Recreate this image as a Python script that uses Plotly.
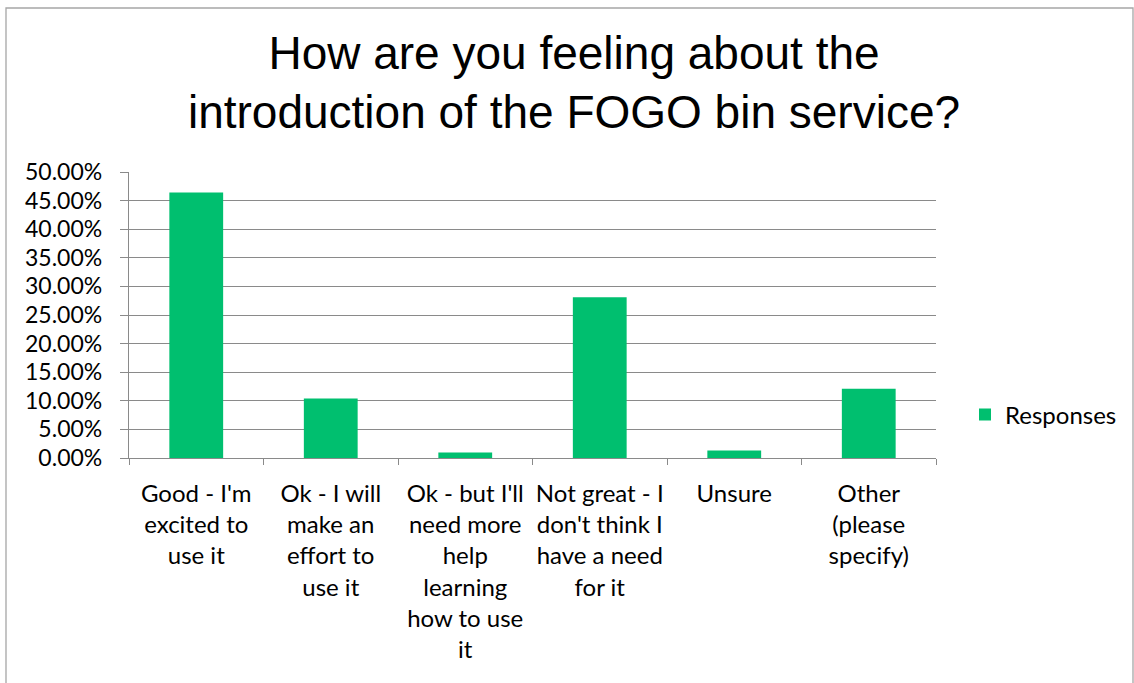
import plotly.graph_objects as go

categories = [
    "Good - I'm<br>excited to<br>use it",
    "Ok - I will<br>make an<br>effort to<br>use it",
    "Ok - but I'll<br>need more<br>help<br>learning<br>how to use<br>it",
    "Not great - I<br>don't think I<br>have a need<br>for it",
    "Unsure",
    "Other<br>(please<br>specify)",
]
responses = [0.464, 0.104, 0.0095, 0.281, 0.013, 0.121]
y_ticks = [0.0, 0.05, 0.10, 0.15, 0.20, 0.25, 0.30, 0.35, 0.40, 0.45, 0.50]
series_name = "Responses"
title_text = "How are you feeling about the<br>introduction of the FOGO bin service?"

W, H = 1134, 683
L, R, T, B = 129, 198, 172, 225
pw, ph = W - L - R, H - T - B

fig = go.Figure()
fig.add_trace(go.Bar(
    x=categories, y=responses, name=series_name,
    marker=dict(color="#00BF6F", line=dict(width=0)),
    showlegend=True,
))

grid = "#8a8a8a"
lab_font = "Lato, Calibri, sans-serif"
fig.update_layout(
    width=W, height=H,
    margin=dict(l=L, r=R, t=T, b=B, autoexpand=False),
    paper_bgcolor="white", plot_bgcolor="white",
    bargap=0.6,
    title=dict(text=title_text, x=574 / W, xanchor="center",
               y=1 - 68.5 / H, yanchor="middle", yref="container",
               font=dict(family="Liberation Sans, Arial", size=46, color="#000")),
    font=dict(family=lab_font, color="#000"),
    xaxis=dict(
        type="category", showgrid=False, showline=True, linecolor=grid, linewidth=1.3,
        ticks="outside", tickson="boundaries", ticklen=6, tickcolor=grid, tickwidth=1.3,
        tickfont=dict(size=24, family=lab_font, color="#000"),
        tickangle=0, ticklabelstandoff=14,
    ),
    yaxis=dict(
        range=[0, 0.5], tickvals=y_ticks, tickformat=".2%",
        showgrid=True, gridcolor=grid, gridwidth=1.3,
        showline=True, linecolor=grid, linewidth=1.3,
        ticks="outside", ticklen=8, tickcolor=grid, tickwidth=1.3,
        tickfont=dict(size=23, family=lab_font, color="#000"),
        zeroline=False, ticklabelstandoff=13,
    ),
    legend=dict(x=(965 - L) / pw, y=(458 - 415) / ph, xanchor="left", yanchor="middle",
                font=dict(size=24, family=lab_font, color="#000"),
                bgcolor="rgba(0,0,0,0)", itemwidth=30),
    shapes=[dict(type="rect", xref="paper", yref="paper",
                 x0=(6 - L) / pw, x1=(1133 - L) / pw,
                 y0=(458 - 700) / ph, y1=(458 - 8) / ph,
                 line=dict(color="#a6a6a6", width=1.3), fillcolor="rgba(0,0,0,0)", layer="below")],
)

fig.write_html("out.html", config={"displayModeBar": False},
               post_script="document.body.style.margin='0';document.body.style.overflow='hidden';")
